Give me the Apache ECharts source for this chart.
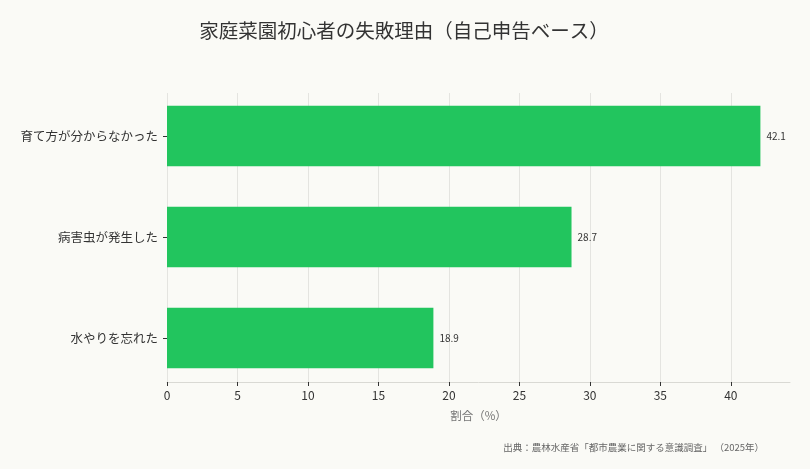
<!DOCTYPE html>
<html>
<head>
<meta charset="utf-8">
<script src="https://cdn.jsdelivr.net/npm/echarts@6/dist/echarts.min.js"></script>
<style>
html,body{margin:0;padding:0;background:#fafaf6;}
#c{width:810px;height:469px;}
</style>
</head>
<body>
<div id="c"></div>
<script>
const categories = ['育て方が分からなかった', '病害虫が発生した', '水やりを忘れた'];
const values = [42.1, 28.7, 18.9];
const xTicks = [0, 5, 10, 15, 20, 25, 30, 35, 40];

const FONT = '"Noto Sans CJK JP", "Noto Sans", sans-serif';
const xMax = 44.2;

const chart = echarts.init(document.getElementById('c'));
chart.setOption({
  backgroundColor: '#fafaf6',
  textStyle: { fontFamily: FONT },
  title: [{
    text: '家庭菜園初心者の失敗理由（自己申告ベース）',
    left: 399, top: 16, textAlign: 'center',
    textStyle: { fontSize: 19.5, fontWeight: 'normal', color: '#333', fontFamily: FONT }
  }, {
    text: '出典：農林水産省「都市農業に関する意識調査」 （2025年）',
    right: 41, top: 438,
    textStyle: { fontSize: 9.5, fontWeight: 'normal', color: '#666', fontFamily: FONT }
  }],
  grid: [
    { left: 167, right: 20, top: 93, bottom: 87 },
    { left: 167, right: 20, top: 85.5, bottom: 80.5 }
  ],
  xAxis: [{
    gridIndex: 0, type: 'value', min: 0, max: xMax, interval: 5,
    name: '割合（%）', nameLocation: 'middle', nameGap: 28,
    nameTextStyle: { fontSize: 11.5, color: '#777', fontFamily: FONT },
    axisLine: { show: true, lineStyle: { color: '#d9d9d4', width: 1 } },
    axisTick: { show: true, length: 4, lineStyle: { color: '#333' }, customValues: xTicks },
    axisLabel: { fontSize: 12, color: '#333', margin: 7, customValues: xTicks },
    splitLine: { show: true, lineStyle: { color: '#e4e4e0', width: 1 } }
  }, {
    gridIndex: 1, type: 'value', min: 0, max: xMax, show: false
  }],
  yAxis: [{
    gridIndex: 0, type: 'value', show: false
  }, {
    gridIndex: 1, type: 'category', inverse: true, data: categories,
    axisLine: { show: false },
    axisTick: { show: true, length: 4, alignWithLabel: true, lineStyle: { color: '#333' } },
    axisLabel: { fontSize: 12.5, color: '#333', margin: 9 },
    splitLine: { show: false }
  }],
  series: [{
    type: 'bar',
    xAxisIndex: 1, yAxisIndex: 1,
    data: values,
    barWidth: '60%',
    itemStyle: { color: '#22c55e' },
    label: {
      show: true, position: 'right', distance: 6,
      fontSize: 10, color: '#333', fontFamily: FONT,
      formatter: p => p.value.toFixed(1)
    },
    silent: true
  }],
  animation: false
});
</script>
</body>
</html>
